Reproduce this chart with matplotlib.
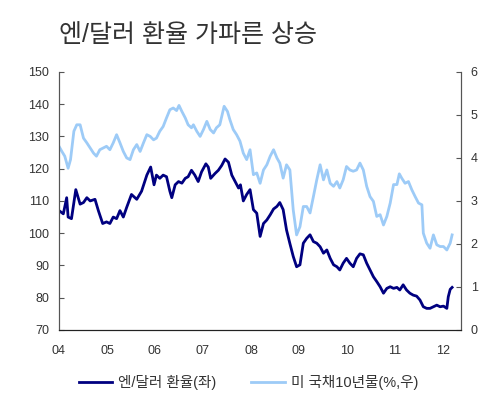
import matplotlib
matplotlib.use("Agg")
import matplotlib.pyplot as plt

plt.rcParams['font.family'] = ['Liberation Sans', 'Noto Sans CJK KR', 'DejaVu Sans']

# 엔/달러 환율 (좌축)
yen_x = [2004.00, 2004.09, 2004.16, 2004.19, 2004.26, 2004.35, 2004.44, 2004.51, 2004.58, 2004.65,
         2004.75, 2004.82, 2004.91, 2004.99, 2005.06, 2005.13, 2005.20, 2005.27, 2005.34, 2005.41,
         2005.51, 2005.62, 2005.72, 2005.83, 2005.91, 2005.98, 2006.03, 2006.10, 2006.17, 2006.24,
         2006.31, 2006.35, 2006.42, 2006.49, 2006.56, 2006.63, 2006.69, 2006.76, 2006.83, 2006.90,
         2006.97, 2007.06, 2007.11, 2007.16, 2007.25, 2007.32, 2007.39, 2007.46, 2007.53, 2007.60,
         2007.67, 2007.74, 2007.78, 2007.84, 2007.91,
         2007.98, 2008.05, 2008.12, 2008.19, 2008.26, 2008.33, 2008.40, 2008.47, 2008.54, 2008.60,
         2008.67, 2008.74, 2008.81, 2008.88, 2008.95, 2009.02, 2009.09, 2009.16, 2009.23, 2009.30,
         2009.37, 2009.44, 2009.51, 2009.58, 2009.65, 2009.72, 2009.79, 2009.85, 2009.92, 2009.99,
         2010.06, 2010.13, 2010.20, 2010.27, 2010.34, 2010.41, 2010.48, 2010.55, 2010.62, 2010.69,
         2010.76, 2010.83, 2010.90, 2010.97, 2011.04, 2011.10, 2011.17, 2011.24, 2011.31, 2011.38,
         2011.45, 2011.52, 2011.59, 2011.66, 2011.73, 2011.80, 2011.87, 2011.94, 2012.01, 2012.08,
         2012.11, 2012.15, 2012.19]
yen = [107.0, 106.0, 111.0, 105.0, 104.5, 113.5, 109.0, 109.5, 111.0, 110.0,
       110.5, 107.0, 103.0, 103.5, 103.0, 105.0, 104.5, 107.0, 105.0, 108.0,
       112.0, 110.5, 113.0, 118.0, 120.5, 115.0, 118.0, 117.0, 118.0, 117.5,
       113.0, 111.0, 115.0, 116.0, 115.5, 117.0, 117.5, 119.5, 118.0, 116.0,
       119.0, 121.5, 120.5, 117.0, 118.5, 119.5, 121.0, 123.0, 122.0, 118.0,
       116.0, 114.0, 115.0, 110.0, 112.0,
       113.5, 107.3, 106.2, 99.0, 103.0, 104.1, 105.7, 107.5, 108.3, 109.5,
       107.3, 101.0, 96.8, 92.8, 89.6, 90.2, 96.9, 98.4, 99.5, 97.4,
       96.9, 95.8, 93.8, 94.8, 92.2, 90.2, 89.6, 88.6, 90.7, 92.2,
       90.7, 89.6, 92.2, 93.6, 93.3, 90.7, 88.6, 86.5, 85.0, 83.4,
       81.4, 82.9, 83.4, 82.9, 83.2, 82.4, 84.0, 82.4, 81.4, 80.8,
       80.5, 79.3, 77.2, 76.7, 76.7, 77.2, 77.7, 77.2, 77.4, 76.7,
       80.3, 82.6, 83.2]

# 미 국채 10년물 (우축, %)
ust_x = [2004.00, 2004.06, 2004.12, 2004.19, 2004.24, 2004.31, 2004.37, 2004.44, 2004.51, 2004.58,
         2004.65, 2004.72, 2004.78, 2004.85, 2004.92, 2004.99, 2005.06, 2005.13, 2005.20, 2005.27,
         2005.34, 2005.41, 2005.48, 2005.55, 2005.62, 2005.69, 2005.76, 2005.83, 2005.90, 2005.97,
         2006.03, 2006.10, 2006.17, 2006.24, 2006.31, 2006.38, 2006.45, 2006.50, 2006.56, 2006.63,
         2006.69, 2006.76, 2006.80, 2006.87, 2006.94, 2007.01, 2007.08, 2007.15, 2007.22, 2007.28,
         2007.35, 2007.44, 2007.51, 2007.56, 2007.63, 2007.70, 2007.77, 2007.84, 2007.91,
         2007.98, 2008.05, 2008.12, 2008.19, 2008.26, 2008.33, 2008.40, 2008.47, 2008.54, 2008.60,
         2008.67, 2008.74, 2008.81, 2008.88, 2008.95, 2009.02, 2009.09, 2009.16, 2009.23, 2009.30,
         2009.37, 2009.44, 2009.51, 2009.58, 2009.65, 2009.72, 2009.79, 2009.85, 2009.92, 2009.99,
         2010.06, 2010.13, 2010.20, 2010.27, 2010.34, 2010.41, 2010.48, 2010.55, 2010.62, 2010.69,
         2010.76, 2010.83, 2010.90, 2010.97, 2011.04, 2011.09, 2011.14, 2011.21, 2011.28, 2011.35,
         2011.42, 2011.49, 2011.56, 2011.59, 2011.66, 2011.73, 2011.80, 2011.87, 2011.94, 2012.01,
         2012.08, 2012.15, 2012.19]
ust = [4.27, 4.15, 4.04, 3.76, 3.96, 4.62, 4.77, 4.77, 4.46, 4.35,
       4.23, 4.11, 4.04, 4.19, 4.23, 4.27, 4.19, 4.35, 4.54, 4.35,
       4.15, 4.00, 3.96, 4.19, 4.31, 4.15, 4.35, 4.54, 4.50, 4.42,
       4.46, 4.62, 4.73, 4.93, 5.12, 5.16, 5.10, 5.22, 5.08, 4.93,
       4.77, 4.70, 4.77, 4.62, 4.50, 4.66, 4.85, 4.66, 4.58, 4.70,
       4.77, 5.20, 5.08, 4.89, 4.66, 4.54, 4.39, 4.11, 3.96,
       4.19, 3.61, 3.65, 3.41, 3.72, 3.84, 4.04, 4.19, 4.00, 3.88,
       3.53, 3.84, 3.72, 2.79, 2.21, 2.40, 2.87, 2.87, 2.72, 3.10,
       3.49, 3.84, 3.49, 3.72, 3.41, 3.34, 3.45, 3.30, 3.49, 3.80,
       3.72, 3.69, 3.72, 3.88, 3.72, 3.34, 3.10, 2.99, 2.64, 2.68,
       2.44, 2.64, 2.95, 3.38, 3.38, 3.63, 3.53, 3.41, 3.45, 3.26,
       3.10, 2.95, 2.91, 2.25, 2.02, 1.90, 2.21, 1.98, 1.94, 1.94,
       1.86, 2.02, 2.21]

years = [2004, 2005, 2006, 2007, 2008, 2009, 2010, 2011, 2012]
year_labels = ['04', '05', '06', '07', '08', '09', '10', '11', '12']

dark = '#000080'
light = '#9dcbf7'
txt = '#333333'

fig = plt.figure(figsize=(5, 4.13), dpi=100)
ax = fig.add_axes([0.118, 0.201, 0.804, 0.625])
ax2 = ax.twinx()

l2, = ax2.plot(ust_x, ust, color=light, lw=2.0, label='미 국채10년물(%,우)')
l1, = ax.plot(yen_x, yen, color=dark, lw=2.0, label='엔/달러 환율(좌)')
ax.set_zorder(ax2.get_zorder() + 1)
ax.patch.set_visible(False)

ax.set_xlim(2004, 2012.375)
ax.set_ylim(70, 150)
ax2.set_ylim(0, 6)
ax.set_yticks(range(70, 151, 10))
ax2.set_yticks(range(0, 7))
ax.set_xticks(years)
ax.set_xticklabels(year_labels)

for a in (ax, ax2):
    a.spines['top'].set_visible(False)
    a.spines['left'].set_color('#555555')
    a.spines['right'].set_color('#555555')
    a.spines['bottom'].set_color('#222222')
ax.tick_params(axis='y', direction='in', length=3.5, pad=7, labelsize=9, labelcolor=txt, color='#555555')
ax2.tick_params(axis='y', direction='in', length=3.5, pad=7, labelsize=9, labelcolor=txt, color='#555555')
ax.tick_params(axis='x', length=0, pad=11, labelsize=9, labelcolor=txt)

fig.text(0.118, 0.915, '엔/달러 환율 가파른 상승', fontsize=18, color=txt, ha='left', va='center')

fig.legend(handles=[l1, l2], loc='center', bbox_to_anchor=(0.497, 0.073), ncol=2,
           frameon=False, fontsize=10.5, handlelength=2.3, handletextpad=0.4,
           columnspacing=2.4, labelcolor=txt)

fig.savefig('out.png', dpi=100)
